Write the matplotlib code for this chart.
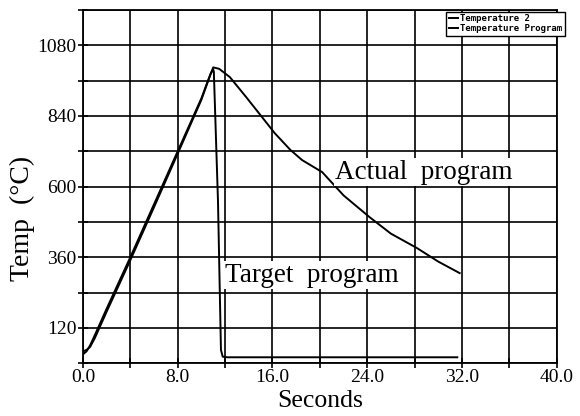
import matplotlib
matplotlib.use("Agg")
import matplotlib.pyplot as plt
import numpy as np

plt.rcParams['font.family'] = ['Liberation Serif', 'DejaVu Serif']

# actual program (Temperature 2)
actual_t = [0.0, 0.3, 0.6, 1.0, 2.0, 4.0, 6.0, 8.0, 10.0, 10.6, 11.0, 11.5,
            12.4, 13.8, 16.2, 17.5, 18.5, 20.2, 22.0, 24.2, 26.0, 28.2, 30.0, 31.8]
actual_temp = [30, 40, 60, 95, 185, 360, 540, 720, 900, 965, 1005, 1000,
               972, 903, 781, 725, 690, 649, 570, 496, 440, 391, 345, 306]

# target program (Temperature Program)
target_t = [0.0, 0.3, 0.6, 1.0, 2.0, 4.0, 6.0, 8.0, 10.0, 10.8, 11.0, 11.05,
            11.4, 11.65, 11.8, 12.2, 31.6]
target_temp = [40, 45, 55, 85, 175, 350, 530, 712, 895, 985, 998, 990,
               550, 45, 22, 20, 20]

x_ticks = np.arange(0, 41, 4)
x_labels = ['%.1f' % v if v % 8 == 0 else '' for v in x_ticks]
y_ticks = np.arange(0, 1201, 120)
y_labels = ['%d' % v if v % 240 == 120 else '' for v in y_ticks]

fig = plt.figure(figsize=(5.8, 4.16), dpi=100)
ax = fig.add_axes([0.143, 0.127, 0.817, 0.849])

ax.plot(actual_t, actual_temp, color='black', lw=1.4, label='Temperature 2')
ax.plot(target_t, target_temp, color='black', lw=1.4, label='Temperature Program')

ax.set_xlim(0, 40)
ax.set_ylim(0, 1200)
ax.set_xticks(x_ticks)
ax.set_xticklabels(x_labels)
ax.set_yticks(y_ticks)
ax.set_yticklabels(y_labels)
ax.grid(True, color='black', lw=1.2)
ax.set_axisbelow(True)
ax.tick_params(direction='inout', length=7, width=1.2, labelsize=14, pad=1)
for s in ax.spines.values():
    s.set_linewidth(1.3)

ax.set_xlabel('Seconds', fontsize=18.5)
ax.xaxis.set_label_coords(0.5, -0.076)
ax.set_ylabel('Temp  (°C)', fontsize=20)
ax.yaxis.set_label_coords(-0.101, 0.41)

ax.text(21.3, 649, 'Actual  program', fontsize=19.5, ha='left', va='center',
        bbox=dict(facecolor='white', edgecolor='none', pad=1))
ax.text(12.0, 299, 'Target  program', fontsize=19.5, ha='left', va='center',
        bbox=dict(facecolor='white', edgecolor='none', pad=1))

leg = ax.legend(loc='upper right', bbox_to_anchor=(1.017, 0.995),
                prop={'family': 'DejaVu Sans Mono', 'size': 6.5, 'weight': 'bold'},
                frameon=True, fancybox=False, framealpha=1, edgecolor='black',
                handlelength=1.0, handletextpad=0.3, borderpad=0.25,
                labelspacing=0.15, borderaxespad=0)
leg.get_frame().set_linewidth(1.0)

fig.savefig('out.png', dpi=100)
